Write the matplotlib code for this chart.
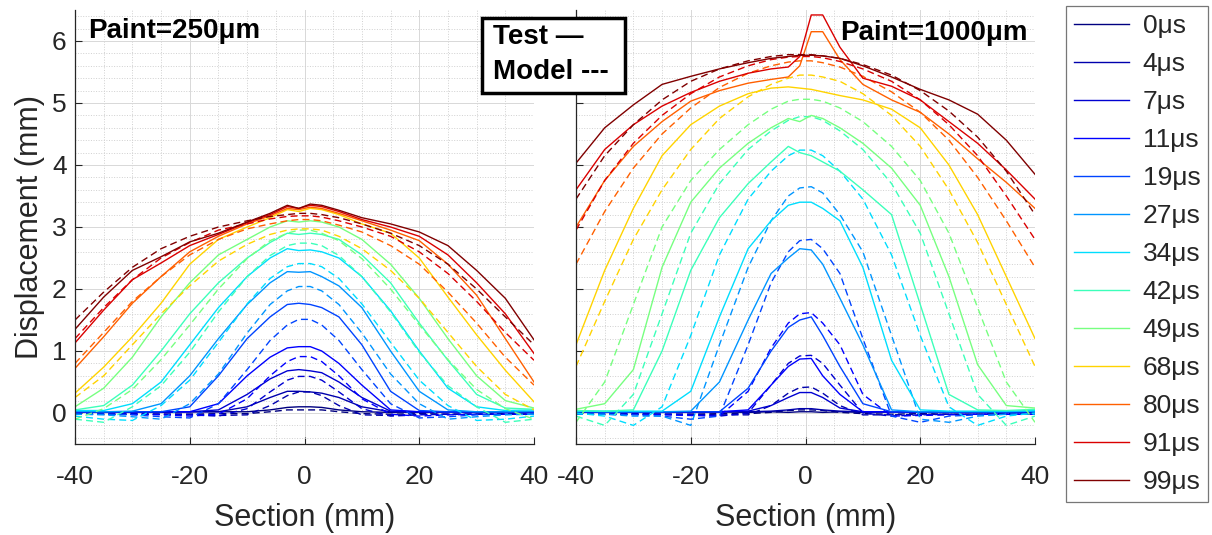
import numpy as np
import matplotlib
matplotlib.use('Agg')
import matplotlib.pyplot as plt
from matplotlib.ticker import MultipleLocator
from matplotlib.lines import Line2D
from matplotlib.patches import Rectangle

# pulse times (legend) and section positions (mm)
times = [0, 4, 7, 11, 19, 27, 34, 42, 49, 68, 80, 91, 99]
x_mm = [-40, -35, -30, -25, -20, -15, -10, -6, -3, -1, 1, 3, 6, 10, 15, 20, 25, 30, 35, 40]

# Paint = 250um, measured displacement (mm), one row per time
test_250 = [
    [0.02, 0.01, 0.02, 0.01, 0.02, 0.02, 0.02, 0.05, 0.09, 0.10, 0.10, 0.09, 0.05, 0.02, 0.01, 0.02, 0.02, 0.01, 0.02, 0.02],
    [0.02, 0.02, 0.01, 0.02, 0.02, 0.02, 0.10, 0.25, 0.35, 0.35, 0.34, 0.32, 0.25, 0.10, 0.02, 0.01, 0.02, 0.02, 0.02, 0.02],
    [0.02, 0.02, 0.02, 0.02, 0.02, 0.05, 0.30, 0.55, 0.68, 0.70, 0.68, 0.65, 0.50, 0.25, 0.03, 0.02, 0.02, 0.02, 0.02, 0.02],
    [0.02, 0.02, 0.02, 0.02, 0.02, 0.15, 0.60, 0.90, 1.05, 1.07, 1.07, 1.00, 0.80, 0.45, 0.05, 0.02, 0.02, 0.02, 0.02, 0.02],
    [0.02, 0.02, 0.02, 0.02, 0.10, 0.60, 1.20, 1.55, 1.75, 1.77, 1.75, 1.70, 1.55, 1.10, 0.35, 0.04, 0.02, 0.02, 0.02, 0.02],
    [0.03, 0.02, 0.03, 0.15, 0.60, 1.20, 1.75, 2.10, 2.28, 2.27, 2.28, 2.20, 2.05, 1.70, 1.00, 0.35, 0.05, 0.02, 0.02, 0.03],
    [0.04, 0.04, 0.15, 0.50, 1.10, 1.70, 2.20, 2.50, 2.65, 2.62, 2.63, 2.60, 2.50, 2.20, 1.65, 1.00, 0.40, 0.10, 0.04, 0.05],
    [0.05, 0.12, 0.45, 1.00, 1.60, 2.10, 2.50, 2.75, 2.90, 2.88, 2.90, 2.88, 2.80, 2.55, 2.10, 1.45, 0.85, 0.30, 0.08, 0.06],
    [0.10, 0.40, 0.90, 1.55, 2.10, 2.55, 2.80, 3.00, 3.10, 3.08, 3.10, 3.08, 3.00, 2.80, 2.40, 1.85, 1.20, 0.60, 0.20, 0.08],
    [0.32, 0.74, 1.23, 1.77, 2.40, 2.80, 3.00, 3.15, 3.28, 3.25, 3.30, 3.28, 3.20, 3.05, 2.90, 2.50, 1.87, 1.26, 0.69, 0.18],
    [0.72, 1.23, 1.77, 2.20, 2.60, 2.85, 3.05, 3.18, 3.30, 3.28, 3.32, 3.30, 3.22, 3.10, 2.95, 2.78, 2.40, 1.90, 1.20, 0.50],
    [1.13, 1.66, 2.15, 2.42, 2.70, 2.88, 3.07, 3.20, 3.33, 3.30, 3.35, 3.33, 3.25, 3.12, 3.00, 2.85, 2.55, 2.10, 1.60, 0.96],
    [1.35, 1.87, 2.30, 2.52, 2.76, 2.90, 3.08, 3.22, 3.35, 3.30, 3.37, 3.35, 3.27, 3.15, 3.05, 2.92, 2.70, 2.30, 1.85, 1.18],
]

# Paint = 250um, model displacement (mm)
model_250 = [
    [-0.02, -0.02, -0.01, -0.02, -0.02, -0.01, -0.01, 0.02, 0.05, 0.05, 0.05, 0.05, 0.02, -0.01, -0.02, -0.01, -0.02, -0.02, -0.01, -0.02],
    [-0.02, -0.02, -0.02, -0.02, -0.02, -0.04, -0.03, 0.12, 0.28, 0.34, 0.34, 0.28, 0.12, -0.03, -0.04, -0.02, -0.02, -0.02, -0.02, -0.02],
    [-0.02, -0.02, -0.02, -0.02, -0.03, -0.05, 0.07, 0.34, 0.53, 0.59, 0.59, 0.53, 0.34, 0.07, -0.05, -0.03, -0.02, -0.02, -0.02, -0.02],
    [-0.02, -0.02, -0.02, -0.03, -0.05, -0.02, 0.23, 0.60, 0.83, 0.91, 0.91, 0.83, 0.60, 0.23, -0.02, -0.05, -0.03, -0.02, -0.02, -0.02],
    [-0.02, -0.02, -0.03, -0.06, -0.08, 0.15, 0.70, 1.17, 1.42, 1.51, 1.51, 1.42, 1.17, 0.70, 0.15, -0.08, -0.06, -0.03, -0.02, -0.02],
    [-0.02, -0.03, -0.06, -0.10, 0.15, 0.63, 1.29, 1.75, 1.97, 2.04, 2.04, 1.97, 1.75, 1.29, 0.63, 0.15, -0.10, -0.06, -0.03, -0.02],
    [-0.05, -0.10, -0.12, 0.12, 0.53, 1.14, 1.76, 2.17, 2.36, 2.41, 2.41, 2.36, 2.17, 1.76, 1.14, 0.53, 0.12, -0.12, -0.10, -0.05],
    [-0.10, -0.15, 0.10, 0.44, 0.98, 1.63, 2.20, 2.54, 2.70, 2.74, 2.74, 2.70, 2.54, 2.20, 1.63, 0.98, 0.44, 0.10, -0.15, -0.10],
    [-0.10, 0.07, 0.38, 0.86, 1.42, 2.00, 2.49, 2.78, 2.90, 2.95, 2.95, 2.90, 2.78, 2.49, 2.00, 1.42, 0.86, 0.38, 0.07, -0.10],
    [0.25, 0.60, 1.10, 1.60, 2.05, 2.45, 2.72, 2.88, 2.95, 2.97, 2.97, 2.95, 2.85, 2.65, 2.30, 1.85, 1.30, 0.75, 0.30, 0.05],
    [0.80, 1.30, 1.80, 2.20, 2.55, 2.80, 2.97, 3.05, 3.10, 3.12, 3.12, 3.10, 3.03, 2.92, 2.70, 2.40, 1.95, 1.45, 0.90, 0.45],
    [1.20, 1.70, 2.15, 2.50, 2.75, 2.95, 3.05, 3.13, 3.17, 3.18, 3.18, 3.16, 3.10, 3.00, 2.85, 2.60, 2.25, 1.80, 1.30, 0.85],
    [1.50, 1.95, 2.35, 2.65, 2.85, 3.00, 3.10, 3.17, 3.20, 3.22, 3.22, 3.20, 3.15, 3.05, 2.90, 2.70, 2.40, 2.00, 1.55, 1.10],
]

# Paint = 1000um, measured displacement (mm)
test_1000 = [
    [0.01, 0.02, 0.01, 0.02, 0.01, 0.02, 0.01, 0.02, 0.01, 0.02, 0.02, 0.01, 0.02, 0.01, 0.02, 0.01, 0.02, 0.01, 0.02, 0.01],
    [0.02, 0.01, 0.02, 0.02, 0.01, 0.02, 0.02, 0.03, 0.05, 0.07, 0.07, 0.05, 0.03, 0.02, 0.02, 0.01, 0.02, 0.02, 0.01, 0.02],
    [0.02, 0.02, 0.02, 0.01, 0.02, 0.02, 0.03, 0.12, 0.25, 0.33, 0.33, 0.25, 0.08, 0.02, 0.02, 0.02, 0.01, 0.02, 0.02, 0.02],
    [0.02, 0.02, 0.02, 0.02, 0.02, 0.02, 0.05, 0.45, 0.75, 0.87, 0.88, 0.60, 0.30, 0.02, 0.02, 0.02, 0.02, 0.02, 0.02, 0.02],
    [0.02, 0.02, 0.02, 0.02, 0.02, 0.02, 0.40, 1.00, 1.38, 1.50, 1.55, 1.25, 0.75, 0.15, 0.02, 0.02, 0.02, 0.02, 0.02, 0.02],
    [0.03, 0.02, 0.02, 0.02, 0.03, 0.50, 1.50, 2.25, 2.50, 2.65, 2.63, 2.40, 1.85, 1.10, 0.05, 0.02, 0.02, 0.02, 0.02, 0.03],
    [0.03, 0.03, 0.03, 0.03, 0.35, 1.55, 2.65, 3.10, 3.35, 3.40, 3.40, 3.30, 3.10, 2.35, 0.85, 0.05, 0.03, 0.03, 0.03, 0.04],
    [0.04, 0.03, 0.05, 1.00, 2.30, 3.15, 3.70, 4.05, 4.30, 4.20, 4.15, 4.05, 3.90, 3.60, 3.20, 1.75, 0.30, 0.05, 0.04, 0.06],
    [0.06, 0.15, 0.70, 2.35, 3.40, 3.95, 4.35, 4.60, 4.75, 4.70, 4.80, 4.75, 4.60, 4.35, 3.95, 3.35, 2.20, 0.78, 0.12, 0.08],
    [1.10, 2.30, 3.30, 4.15, 4.65, 4.95, 5.15, 5.24, 5.26, 5.24, 5.22, 5.18, 5.12, 5.05, 4.90, 4.60, 4.00, 3.20, 2.20, 1.20],
    [3.00, 3.75, 4.30, 4.70, 5.03, 5.20, 5.32, 5.38, 5.42, 5.60, 6.15, 6.15, 5.70, 5.30, 5.05, 4.85, 4.50, 4.10, 3.72, 3.30],
    [3.60, 4.25, 4.65, 4.95, 5.17, 5.35, 5.48, 5.55, 5.58, 5.75, 6.42, 6.42, 5.90, 5.40, 5.27, 5.05, 4.70, 4.35, 3.92, 3.45],
    [4.03, 4.60, 4.97, 5.30, 5.43, 5.55, 5.65, 5.72, 5.75, 5.77, 5.77, 5.76, 5.72, 5.60, 5.42, 5.22, 5.05, 4.82, 4.40, 3.85],
]

# Paint = 1000um, model displacement (mm)
model_1000 = [
    [-0.02, -0.02, -0.01, -0.02, -0.02, -0.01, -0.01, 0.01, 0.04, 0.05, 0.05, 0.04, 0.01, -0.01, -0.02, -0.01, -0.02, -0.02, -0.01, -0.02],
    [-0.02, -0.02, -0.02, -0.02, -0.02, -0.03, -0.03, 0.12, 0.32, 0.41, 0.42, 0.32, 0.12, -0.03, -0.03, -0.02, -0.02, -0.02, -0.02, -0.02],
    [-0.02, -0.02, -0.02, -0.02, -0.03, -0.05, 0.00, 0.45, 0.80, 0.92, 0.93, 0.80, 0.45, 0.00, -0.05, -0.03, -0.02, -0.02, -0.02, -0.02],
    [-0.02, -0.02, -0.02, -0.03, -0.04, -0.05, 0.35, 1.05, 1.45, 1.60, 1.62, 1.45, 1.10, 0.30, -0.05, -0.04, -0.03, -0.02, -0.02, -0.02],
    [-0.02, -0.02, -0.03, -0.05, -0.10, -0.05, 1.10, 2.10, 2.60, 2.78, 2.80, 2.65, 2.25, 1.20, -0.05, -0.15, -0.05, -0.03, -0.02, -0.02],
    [-0.02, -0.02, -0.05, -0.05, -0.20, 1.10, 2.35, 3.10, 3.50, 3.63, 3.65, 3.55, 3.20, 2.60, 1.25, -0.10, -0.15, -0.05, -0.02, -0.02],
    [0.00, -0.05, -0.20, 0.10, 1.25, 2.55, 3.45, 3.90, 4.15, 4.24, 4.24, 4.15, 3.90, 3.45, 2.55, 1.25, 0.10, -0.20, -0.05, 0.00],
    [-0.05, -0.20, 0.30, 1.60, 2.90, 3.70, 4.25, 4.55, 4.72, 4.78, 4.78, 4.72, 4.55, 4.25, 3.70, 2.90, 1.60, 0.30, -0.20, -0.05],
    [-0.15, 0.50, 1.75, 3.00, 3.75, 4.25, 4.65, 4.90, 5.03, 5.06, 5.06, 5.03, 4.92, 4.70, 4.30, 3.75, 2.90, 1.70, 0.50, -0.15],
    [0.75, 1.80, 2.80, 3.60, 4.25, 4.75, 5.10, 5.30, 5.40, 5.45, 5.45, 5.42, 5.35, 5.15, 4.80, 4.30, 3.60, 2.75, 1.75, 0.75],
    [2.40, 3.25, 3.95, 4.50, 4.92, 5.25, 5.48, 5.60, 5.66, 5.68, 5.68, 5.65, 5.58, 5.43, 5.18, 4.85, 4.40, 3.80, 3.10, 2.35],
    [2.95, 3.75, 4.35, 4.80, 5.15, 5.42, 5.60, 5.70, 5.74, 5.75, 5.75, 5.73, 5.67, 5.55, 5.35, 5.05, 4.65, 4.15, 3.50, 2.80],
    [3.45, 4.15, 4.65, 5.05, 5.35, 5.55, 5.68, 5.75, 5.78, 5.78, 5.78, 5.76, 5.72, 5.62, 5.45, 5.20, 4.87, 4.45, 3.90, 3.20],
]

plt.rcParams['font.family'] = ['Liberation Sans', 'DejaVu Sans']
plt.rcParams['axes.unicode_minus'] = False

W, H = 1212, 535
fig = plt.figure(figsize=(W / 100, H / 100), dpi=100)
ax1 = fig.add_axes([75 / W, 91 / H, 459 / W, 434 / H])
ax2 = fig.add_axes([576 / W, 91 / H, 459 / W, 434 / H])

colors = plt.cm.jet(np.array(times) / 99.0)
ink = '#262626'


def draw_panel(ax, test, model):
    for i in range(len(times)):
        ax.plot(x_mm, test[i], color=colors[i], lw=1.0)
        ax.plot(x_mm, model[i], color=colors[i], lw=1.0, ls=(0, (5, 3)))
    ax.set_xlim(-40, 40)
    ax.set_ylim(-0.5, 6.5)
    ax.set_xticks([-40, -20, 0, 20, 40])
    ax.set_yticks(range(7))
    ax.xaxis.set_minor_locator(MultipleLocator(5))
    ax.yaxis.set_minor_locator(MultipleLocator(0.2))
    ax.grid(which='major', color='#d8d8d8', lw=0.7)
    ax.grid(which='minor', color='#d0d0d0', lw=0.7, ls=':')
    ax.set_axisbelow(True)
    for s in ['top', 'right']:
        ax.spines[s].set_visible(False)
    for s in ['left', 'bottom']:
        ax.spines[s].set_color(ink)
        ax.spines[s].set_linewidth(0.9)
    ax.tick_params(which='major', direction='in', length=5, color=ink,
                   labelcolor=ink, labelsize=19)
    ax.tick_params(axis='x', pad=15)
    ax.tick_params(axis='y', pad=6)
    ax.tick_params(which='minor', length=0)
    ax.set_xlabel('Section (mm)', fontsize=22, color=ink, labelpad=10)


draw_panel(ax1, test_250, model_250)
draw_panel(ax2, test_1000, model_1000)
ax2.tick_params(labelleft=False)

fig.text(30 / W, 1 - 227 / H, 'Displacement (mm)', rotation=90, fontsize=22,
         color=ink, ha='center', va='center')

fig.text(88 / W, 1 - 31 / H, 'Paint=250μm', fontsize=20, fontweight='bold',
         ha='left', va='center')
fig.text(840 / W, 1 - 33 / H, 'Paint=1000μm', fontsize=20, fontweight='bold',
         ha='left', va='center')

# line style key
fig.add_artist(Rectangle((482 / W, 1 - 93 / H), 143 / W, 75 / H,
                         transform=fig.transFigure, facecolor='white',
                         edgecolor='black', lw=2.5, zorder=5))
fig.text(493 / W, 1 - 37 / H, 'Test —', fontsize=20, fontweight='bold',
         ha='left', va='center', zorder=6)
fig.text(493 / W, 1 - 72 / H, 'Model ---', fontsize=20, fontweight='bold',
         ha='left', va='center', zorder=6)

handles = [Line2D([], [], color=c, lw=1.0) for c in colors]
labels = ['%dμs' % t for t in times]
leg = fig.legend(handles, labels, loc='upper left',
                 bbox_to_anchor=(1066 / W, 1 - 6 / H), frameon=True,
                 fancybox=False, edgecolor='#555555', fontsize=19,
                 handlelength=2.1, handletextpad=0.5, labelspacing=0.53,
                 borderpad=0.3, borderaxespad=0)
leg.get_frame().set_linewidth(0.9)
for t in leg.get_texts():
    t.set_color(ink)

fig.savefig('out.png', dpi=100)
